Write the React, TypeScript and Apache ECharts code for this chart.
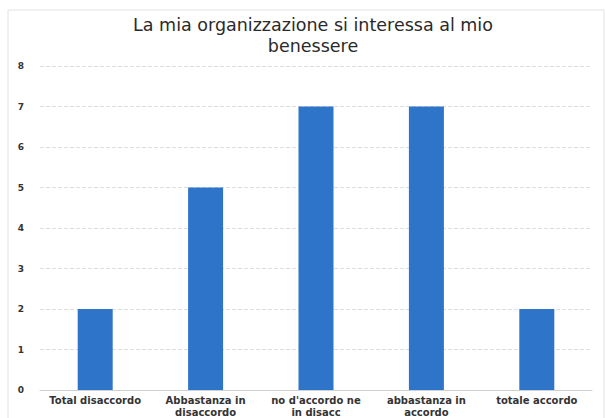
import React, { useEffect, useRef } from "react";
import * as echarts from "echarts";

const titleText = "La mia organizzazione si interessa al mio\nbenessere";
const categories = [
  "Total disaccordo",
  "Abbastanza in\ndisaccordo",
  "no d'accordo ne\nin disacc",
  "abbastanza in\naccordo",
  "totale accordo",
];
const values = [2, 5, 7, 7, 2];
const yMin = 0;
const yMax = 8;
const yInterval = 1;

export default function App() {
  const ref = useRef<HTMLDivElement>(null);
  useEffect(() => {
    document.body.style.margin = "0";
    if (!ref.current) return;
    const chart = echarts.init(ref.current, null, { renderer: "svg" });
    chart.setOption({
      animation: false,
      backgroundColor: "#ffffff",
      title: {
        text: titleText,
        left: 308,
        textAlign: "center",
        top: 9,
        textStyle: {
          fontFamily: "DejaVu Sans",
          fontWeight: "normal",
          fontSize: 17.5,
          lineHeight: 21,
          color: "#2a2a2a",
        },
      },
      graphic: [
        {
          type: "rect",
          shape: { x: 8, y: 10, width: 596, height: 410 },
          style: { fill: "none", stroke: "#e2e2e2", lineWidth: 1 },
          silent: true,
        },
      ],
      grid: { left: 40, right: 14, top: 66, bottom: 28 },
      xAxis: {
        type: "category",
        data: categories,
        axisTick: { show: false },
        axisLine: { lineStyle: { color: "#d0d0d0" } },
        axisLabel: {
          interval: 0,
          fontFamily: "DejaVu Sans",
          fontSize: 10,
          fontWeight: "bold",
          lineHeight: 12,
          color: "#333333",
          margin: 4,
        },
      },
      yAxis: {
        type: "value",
        min: yMin,
        max: yMax,
        interval: yInterval,
        axisLine: { show: false },
        axisTick: { show: false },
        splitLine: { lineStyle: { color: "#dedede", type: "dashed" } },
        axisLabel: {
          fontFamily: "DejaVu Sans",
          fontSize: 9,
          fontWeight: "bold",
          color: "#333333",
          margin: 16,
        },
      },
      series: [
        {
          type: "bar",
          data: values,
          barWidth: 35,
          itemStyle: { color: "#2e75c9" },
        },
      ],
    });
    return () => chart.dispose();
  }, []);
  return <div ref={ref} style={{ width: 606, height: 418 }} />;
}
